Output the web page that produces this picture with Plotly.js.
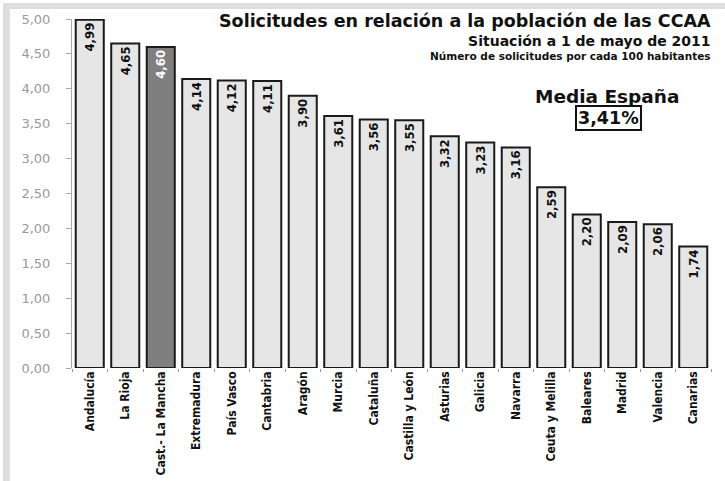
<!DOCTYPE html>
<html>
<head>
<meta charset="utf-8">
<script src="https://cdn.plot.ly/plotly-3.0.1.min.js"></script>
<style>
  html, body { margin: 0; padding: 0; background: #ffffff; }
  #wrap { position: relative; width: 725px; height: 481px; overflow: hidden; }
  .band { position: absolute; background: #dedede; }
  #top { left: 3px; top: 3px; width: 722px; height: 6px; }
  #left { left: 3px; top: 3px; width: 7px; height: 478px; }
  #chart { position: absolute; left: 0; top: 0; width: 725px; height: 481px; }
</style>
</head>
<body>
<div id="wrap">
  <div class="band" id="top"></div>
  <div class="band" id="left"></div>
  <div id="chart"></div>
</div>
<script>
const categories = ["Andalucía", "La Rioja", "Cast.- La Mancha", "Extremadura", "País Vasco", "Cantabria",
  "Aragón", "Murcia", "Cataluña", "Castilla y León", "Asturias", "Galicia", "Navarra",
  "Ceuta y Melilla", "Baleares", "Madrid", "Valencia", "Canarias"];
const values = [4.99, 4.65, 4.60, 4.14, 4.12, 4.11, 3.90, 3.61, 3.56, 3.55, 3.32, 3.23, 3.16, 2.59, 2.20, 2.09, 2.06, 1.74];
const highlighted = "Cast.- La Mancha";
const mediaEspana = 3.41;
const titleText = "Solicitudes en relación a la población de las CCAA";
const subtitleText = "Situación a 1 de mayo de 2011";
const noteText = "Número de solicitudes por cada 100 habitantes";

const fmt = v => v.toFixed(2).replace('.', ',');
const barColors = categories.map(c => c === highlighted ? '#7f7f7f' : '#e6e6e6');
const textColors = categories.map(c => c === highlighted ? '#ffffff' : '#111111');
const narrow = '"Liberation Sans Narrow", "Arial Narrow", "DejaVu Sans Condensed", sans-serif';
const wide = '"DejaVu Sans", Verdana, sans-serif';

const trace = {
  type: 'bar',
  x: categories,
  y: values,
  text: values.map(fmt),
  textposition: 'inside',
  insidetextanchor: 'end',
  textangle: -90,
  constraintext: 'none',
  textfont: { family: narrow, size: 13, color: textColors, weight: 'bold' },
  marker: { color: barColors, line: { color: '#1a1a1a', width: 2 } },
  hoverinfo: 'x+y'
};

const layout = {
  width: 725, height: 481,
  margin: { l: 72, r: 14, t: 19, b: 113 },
  paper_bgcolor: 'rgba(0,0,0,0)',
  plot_bgcolor: 'rgba(0,0,0,0)',
  separators: ',.',
  bargap: 0.21,
  showlegend: false,
  xaxis: {
    type: 'category',
    tickangle: -90,
    tickfont: { family: narrow, size: 12, color: '#111111', weight: 'bold' },
    ticks: 'outside', tickson: 'boundaries', ticklen: 3, tickcolor: '#999999',
    showline: false, showgrid: false, zeroline: false
  },
  yaxis: {
    range: [0, 5],
    dtick: 0.5,
    tickformat: '.2f',
    tickfont: { family: wide, size: 13, color: '#999999' },
    ticks: 'outside', ticklen: 5, tickcolor: '#aaaaaa',
    ticklabelstandoff: 13,
    showline: true, linecolor: '#aaaaaa', linewidth: 1,
    showgrid: false, zeroline: false
  },
  annotations: [
    { text: '<b>' + titleText + '</b>', xref: 'paper', yref: 'paper', x: 1.003, y: 0.995,
      xanchor: 'right', yanchor: 'middle', showarrow: false,
      font: { family: wide, size: 17.5, color: '#111111' } },
    { text: '<b><span style="font-size:14px">' + subtitleText + '</span><br>' + noteText + '</b>',
      xref: 'paper', yref: 'paper', x: 1.003, y: 0.917, align: 'right',
      xanchor: 'right', yanchor: 'middle', showarrow: false,
      font: { family: wide, size: 10.5, color: '#111111' } },
    { text: '<b>Media España</b>', xref: 'paper', yref: 'paper', x: 0.838, y: 0.779,
      xanchor: 'center', yanchor: 'middle', showarrow: false,
      font: { family: wide, size: 18.5, color: '#111111' } },
    { text: '<b>' + fmt(mediaEspana) + '%</b>', xref: 'paper', yref: 'paper', x: 0.839, y: 0.717,
      xanchor: 'center', yanchor: 'middle', showarrow: false,
      bordercolor: '#111111', borderwidth: 2, borderpad: 1, bgcolor: '#ffffff',
      font: { family: wide, size: 17.5, color: '#111111' } }
  ]
};

Plotly.newPlot('chart', [trace], layout, { displayModeBar: false, staticPlot: true });
</script>
</body>
</html>
